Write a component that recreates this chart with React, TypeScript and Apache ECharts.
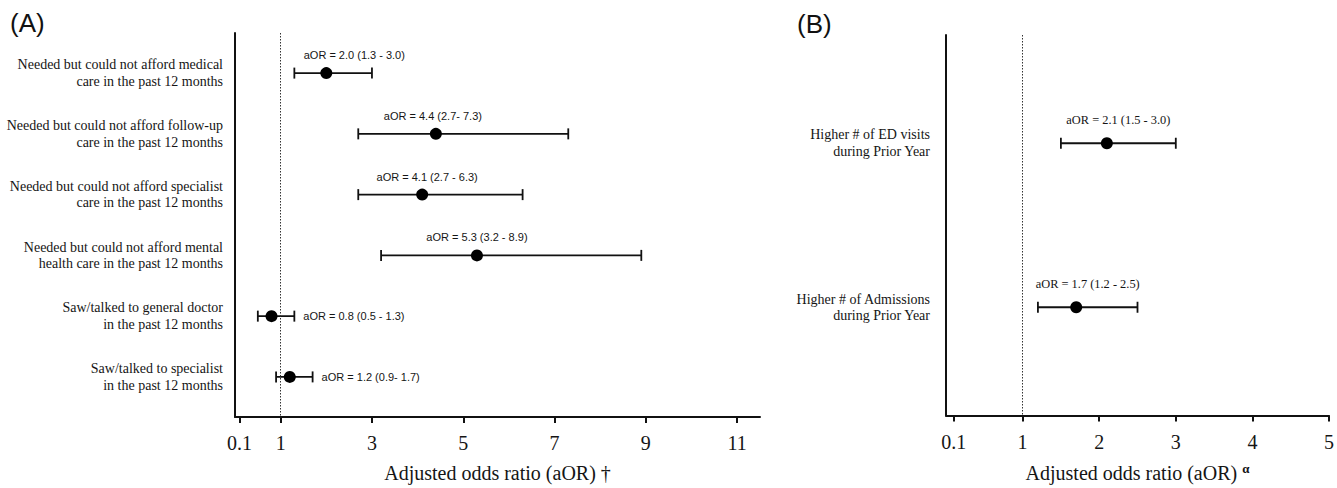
import React, { useEffect, useRef } from "react";
import * as echarts from "echarts";

// ---------- Data: panel A ----------
const categoriesA = [
  "Needed but could not afford medical\ncare in the past 12 months",
  "Needed but could not afford follow-up\ncare in the past 12 months",
  "Needed but could not afford specialist\ncare in the past 12 months",
  "Needed but could not afford mental\nhealth care in the past 12 months",
  "Saw/talked to general doctor\nin the past 12 months",
  "Saw/talked to specialist\nin the past 12 months",
];
const aorA = [2.0, 4.4, 4.1, 5.3, 0.8, 1.2];
const lowA = [1.3, 2.7, 2.7, 3.2, 0.5, 0.9];
const highA = [3.0, 7.3, 6.3, 8.9, 1.3, 1.7];
const labelsA = [
  "aOR = 2.0 (1.3 - 3.0)",
  "aOR = 4.4 (2.7- 7.3)",
  "aOR = 4.1 (2.7 - 6.3)",
  "aOR = 5.3 (3.2 - 8.9)",
  "aOR = 0.8 (0.5 - 1.3)",
  "aOR = 1.2 (0.9- 1.7)",
];
const ticksA = [0.1, 1, 3, 5, 7, 9, 11];

// ---------- Data: panel B ----------
const categoriesB = [
  "Higher # of ED visits\nduring Prior Year",
  "Higher # of Admissions\nduring Prior Year",
];
const aorB = [2.1, 1.7];
const lowB = [1.5, 1.2];
const highB = [3.0, 2.5];
const labelsB = ["aOR = 2.1 (1.5 - 3.0)", "aOR = 1.7 (1.2 - 2.5)"];
const ticksB = [0.1, 1, 2, 3, 4, 5];

// ---------- Layout (not data) ----------
const labelModeA = ["top", "top", "top", "top", "right", "right"];
const labelDxA = [28, -3, 5, 0, 0, 0];
const labelModeB = ["topMid", "topMid"];
const labelDxB = [0, 0];

const SERIF = "'Liberation Serif', 'Times New Roman', serif";
const SANS = "'Liberation Sans', Arial, sans-serif";
const INK = "#111111";
const TEXT = "#151515";

function makeRender(labels: string[], modes: string[], dxs: number[], dy: number, fontFamily: string, fontSize: number) {
  return (params: any, api: any) => {
    const row = api.value(0);
    const lo = api.value(1);
    const hi = api.value(2);
    const est = api.value(3);
    const pLo = api.coord([lo, row]);
    const pHi = api.coord([hi, row]);
    const pEst = api.coord([est, row]);
    const y = pLo[1];
    const cap = 5.5;
    const i = params.dataIndex;
    const st = { stroke: INK, lineWidth: 1.8 };
    let tx = pEst[0] + dxs[i];
    let ty = y + dy;
    let align = "center";
    if (modes[i] === "right") {
      tx = pHi[0] + 9;
      ty = y;
      align = "left";
    } else if (modes[i] === "topMid") {
      tx = (pLo[0] + pHi[0]) / 2 + dxs[i];
    }
    return {
      type: "group",
      children: [
        { type: "line", shape: { x1: pLo[0], y1: y, x2: pHi[0], y2: y }, style: st },
        { type: "line", shape: { x1: pLo[0], y1: y - cap, x2: pLo[0], y2: y + cap }, style: st },
        { type: "line", shape: { x1: pHi[0], y1: y - cap, x2: pHi[0], y2: y + cap }, style: st },
        {
          type: "text",
          x: tx,
          y: ty,
          style: {
            text: labels[i],
            fill: TEXT,
            fontFamily,
            fontSize,
            align,
            verticalAlign: "middle",
          },
        },
      ],
    };
  };
}

const axisLineStyle = { color: INK, width: 2 };

function xAxisCfg(gridIndex: number, max: number, ticks: number[], name: string, rich?: any) {
  return {
    gridIndex,
    type: "value",
    min: 0,
    max,
    axisLine: { show: true, onZero: false, lineStyle: axisLineStyle },
    axisTick: { show: true, customValues: ticks, length: 6, lineStyle: { color: INK, width: 2 } },
    axisLabel: {
      customValues: ticks,
      formatter: (v: number) => String(v),
      fontFamily: SERIF,
      fontSize: 20,
      color: TEXT,
      margin: 16,
    },
    splitLine: { show: false },
    name,
    nameLocation: "middle",
    nameGap: 46,
    nameTextStyle: rich
      ? { rich }
      : { fontFamily: SERIF, fontSize: 20, color: TEXT },
  };
}

function yAxisCfg(gridIndex: number, n: number, cats: string[], margin: number) {
  const vals = cats.map((_, i) => i + 1);
  return {
    gridIndex,
    type: "value",
    min: 0.34,
    max: n + 0.66,
    inverse: true,
    axisLine: { show: true, onZero: false, lineStyle: axisLineStyle },
    axisTick: { show: false },
    axisLabel: {
      customValues: vals,
      formatter: (v: number) => cats[Math.round(v) - 1] ?? "",
      fontFamily: SERIF,
      fontSize: 14,
      lineHeight: 16.5,
      color: TEXT,
      margin,
      align: "right",
    },
    splitLine: { show: false },
  };
}

const refLine = {
  silent: true,
  symbol: ["none", "none"],
  label: { show: false },
  lineStyle: { type: [1.5, 1.5], color: "#333", width: 1 },
  data: [{ xAxis: 1 }],
};

export default function App() {
  const ref = useRef<HTMLDivElement>(null);
  useEffect(() => {
    if (!ref.current) return;
    const chart = echarts.init(ref.current, undefined, { renderer: "svg" });
    const option: any = {
      animation: false,
      backgroundColor: "#ffffff",
      grid: [
        { left: 235, right: 577, top: 33, bottom: 68 },
        { left: 946, right: 4, top: 35, bottom: 67 },
      ],
      xAxis: [
        xAxisCfg(0, 11.5, ticksA, "Adjusted odds ratio (aOR) †"),
        xAxisCfg(1, 5, ticksB, "{m|Adjusted odds ratio (aOR) }{s|α}", {
          m: { fontFamily: SERIF, fontSize: 20, color: TEXT },
          s: { fontFamily: SERIF, fontSize: 13, fontWeight: "bold", color: TEXT, padding: [0, 0, 10, 0] },
        }),
      ],
      yAxis: [yAxisCfg(0, 6, categoriesA, 12), yAxisCfg(1, 2, categoriesB, 16)],
      graphic: [
        { type: "text", left: 10, top: 10, style: { text: "(A)", fontFamily: SANS, fontSize: 26, fill: INK } },
        { type: "text", left: 797, top: 11, style: { text: "(B)", fontFamily: SANS, fontSize: 26, fill: INK } },
      ],
      series: [
        {
          type: "custom",
          xAxisIndex: 0,
          yAxisIndex: 0,
          renderItem: makeRender(labelsA, labelModeA, labelDxA, -18, SANS, 11),
          encode: { x: [1, 2, 3], y: 0 },
          data: aorA.map((v, i) => [i + 1, lowA[i], highA[i], v]),
          silent: true,
          z: 2,
        },
        {
          type: "scatter",
          xAxisIndex: 0,
          yAxisIndex: 0,
          symbolSize: 12,
          itemStyle: { color: "#000000", opacity: 1 },
          data: aorA.map((v, i) => [v, i + 1]),
          markLine: refLine,
          z: 3,
        },
        {
          type: "custom",
          xAxisIndex: 1,
          yAxisIndex: 1,
          renderItem: makeRender(labelsB, labelModeB, labelDxB, -23, SERIF, 12.4),
          encode: { x: [1, 2, 3], y: 0 },
          data: aorB.map((v, i) => [i + 1, lowB[i], highB[i], v]),
          silent: true,
          z: 2,
        },
        {
          type: "scatter",
          xAxisIndex: 1,
          yAxisIndex: 1,
          symbolSize: 12,
          itemStyle: { color: "#000000", opacity: 1 },
          data: aorB.map((v, i) => [v, i + 1]),
          markLine: refLine,
          z: 3,
        },
      ],
    };
    chart.setOption(option);
    return () => chart.dispose();
  }, []);
  return (
    <div
      ref={ref}
      style={{ position: "fixed", left: 0, top: 0, width: 1337, height: 488, background: "#fff" }}
    />
  );
}
